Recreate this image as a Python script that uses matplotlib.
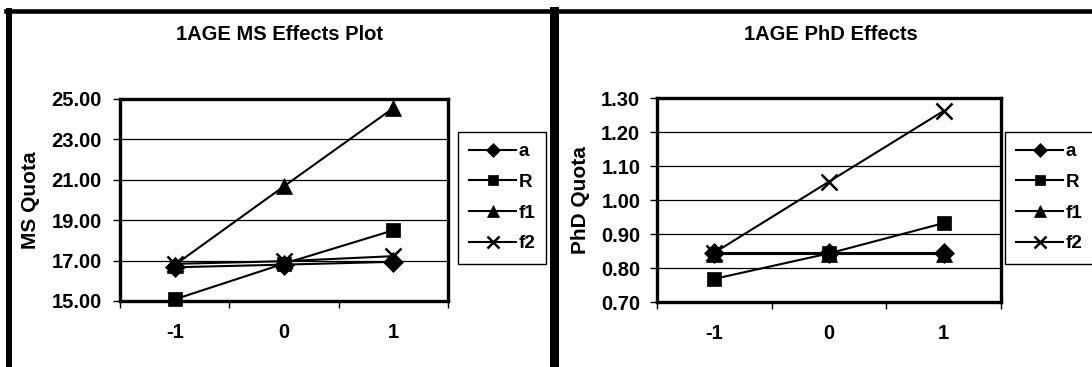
import matplotlib
matplotlib.use('Agg')
import matplotlib.pyplot as plt
from matplotlib.lines import Line2D

# ---- data ----
levels = ['-1', '0', '1']
series_names = ['a', 'R', 'f1', 'f2']
ms_a = [16.67, 16.80, 16.94]
ms_R = [15.08, 16.85, 18.50]
ms_f1 = [16.78, 20.68, 24.55]
ms_f2 = [16.84, 16.97, 17.22]
phd_a = [0.843, 0.843, 0.843]
phd_R = [0.768, 0.843, 0.932]
phd_f1 = [0.840, 0.840, 0.840]
phd_f2 = [0.845, 1.054, 1.262]
ms_yticks = [15.0, 17.0, 19.0, 21.0, 23.0, 25.0]
phd_yticks = [0.70, 0.80, 0.90, 1.00, 1.10, 1.20, 1.30]
titles = ['1AGE MS Effects Plot', '1AGE PhD Effects']
ylabels = ['MS Quota', 'PhD Quota']

plt.rcParams['font.family'] = ['Liberation Sans', 'DejaVu Sans']
plt.rcParams['font.weight'] = 'bold'

W, H = 1092, 367
fig = plt.figure(figsize=(W / 100, H / 100), dpi=100)
fig.patch.set_facecolor('white')

def fx(px):
    return px / W

def fy(py):
    return 1 - py / H

markers = ['D', 's', '^', 'x']
msizes = [10, 10.5, 11.5, 11.5]

def make_panel(rect, series, yticks, title, ylabel, title_x, ylabel_x,
               legend_x, ypad):
    x0, y0, x1, y1 = rect
    ax = fig.add_axes([fx(x0), fy(y1), (x1 - x0) / W, (y1 - y0) / H])
    xs = list(range(len(levels)))
    for name, vals, m, s in zip(series_names, series, markers, msizes):
        ax.plot(xs, vals, color='black', lw=1.5, marker=m, ms=s,
                mfc='black', mec='black', mew=1.8 if m == 'x' else 0.5,
                label=name, clip_on=False, zorder=3)
    ax.set_xlim(-0.5, len(levels) - 0.5)
    ax.set_ylim(yticks[0], yticks[-1])
    ax.set_yticks(yticks)
    ax.set_yticklabels([f'{v:.2f}' for v in yticks])
    ax.set_xticks(xs)
    ax.set_xticklabels(levels)
    ax.set_xticks([v - 0.5 for v in range(len(levels) + 1)], minor=True)
    ax.tick_params(axis='x', which='major', length=0, pad=16, labelsize=14.5)
    ax.tick_params(axis='x', which='minor', length=5, width=1, direction='out')
    ax.tick_params(axis='y', which='major', length=5, width=1, direction='out',
                   pad=ypad, labelsize=14.5)
    for lab in ax.get_xticklabels() + ax.get_yticklabels():
        lab.set_fontweight('bold')
    ax.yaxis.grid(True, color='black', lw=0.9)
    ax.set_axisbelow(True)
    for sp in ax.spines.values():
        sp.set_linewidth(2.4)
        sp.set_color('black')
    fig.text(fx(title_x), fy(35), title, ha='center', va='center',
             fontsize=14.5, fontweight='bold')
    fig.text(fx(ylabel_x), fy(200), ylabel, ha='center', va='center',
             rotation=90, fontsize=15, fontweight='bold')
    leg = ax.legend(loc='upper left', bbox_to_anchor=(fx(legend_x), fy(132)),
                    bbox_transform=fig.transFigure, borderaxespad=0,
                    frameon=True, fancybox=False, edgecolor='black',
                    framealpha=1, prop={'size': 13.5, 'weight': 'bold'},
                    handlelength=2.5, handletextpad=0.12, labelspacing=0.72,
                    borderpad=0.6, markerscale=0.75, numpoints=1)
    leg.get_frame().set_linewidth(1.0)
    return ax

make_panel((120, 99, 448, 301), [ms_a, ms_R, ms_f1, ms_f2], ms_yticks,
           titles[0], ylabels[0], 280, 31, 458, 8)
make_panel((657, 98, 1001, 302), [phd_a, phd_R, phd_f1, phd_f2], phd_yticks,
           titles[1], ylabels[1], 831, 581, 1005, 7)

# outer frame lines
fig.add_artist(Line2D([fx(6), fx(W)], [fy(10.5), fy(10.5)], color='black', lw=3.3,
                      transform=fig.transFigure))
fig.add_artist(Line2D([fx(9), fx(9)], [fy(10.5), fy(H)], color='black', lw=4.3,
                      transform=fig.transFigure))
fig.add_artist(Line2D([fx(553.5), fx(553.5)], [fy(10.5), fy(H)], color='black',
                      lw=6.5, transform=fig.transFigure))

fig.savefig('out.png', dpi=100)
